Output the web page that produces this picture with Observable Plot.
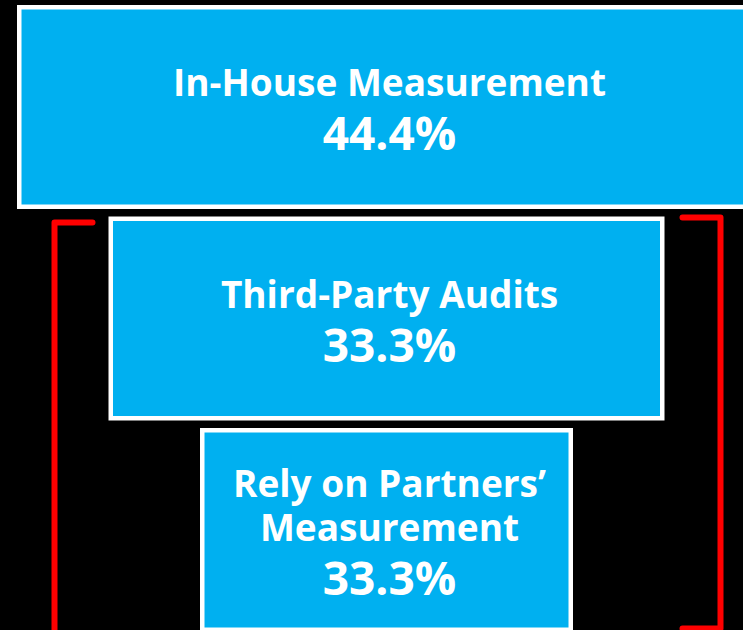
<!DOCTYPE html>
<html>
<head>
<meta charset="utf-8">
<script src="https://cdn.jsdelivr.net/npm/d3@7"></script>
<script src="https://cdn.jsdelivr.net/npm/@observablehq/plot@0.6"></script>
<style>
  html, body { margin: 0; padding: 0; background: #000; overflow: hidden; }
  #chart { width: 743px; height: 630px; overflow: hidden; }
</style>
</head>
<body>
<div id="chart"></div>
<script>
// ---- data ----
const categories = ["In-House Measurement", "Third-Party Audits", "Rely on Partners’ Measurement"];
const labelLines = [["In-House Measurement"], ["Third-Party Audits"], ["Rely on Partners’", "Measurement"]];
const values = [44.4, 33.3, 33.3];
const valueLabels = values.map(v => v.toFixed(1) + "%");

// ---- layout (funnel geometry in scale units = px) ----
const W = 743, H = 630;
const CX = 386.5, PITCH = 211.5, TOP0 = 5, BOXH = 204;
const LABEL_FS = 37, VALUE_FS = 46, LH = 43.5, GAP = 54.4, CAP = 26.5;
const n = categories.length;
const boxes = categories.map((c, i) => {
  const hw = 186.5 + 91.5 * (n - 1 - i);
  const top = TOP0 + PITCH * i;
  return {category: c, x1: CX - hw, x2: CX + hw, y1: top, y2: top + BOXH};
});

const labels = [], valueTexts = [];
boxes.forEach((b, i) => {
  const lines = labelLines[i];
  const blockH = CAP + LH * (lines.length - 1) + GAP;
  const cy = b.y1 + BOXH / 2 + 2.5;
  const firstBase = cy - blockH / 2 + CAP;
  const lastBase = firstBase + LH * (lines.length - 1);
  labels.push({x: CX, y: lastBase, text: lines.join("\n")});
  valueTexts.push({x: CX, y: lastBase + GAP, text: valueLabels[i]});
});

// bracket around the bottom two categories
const b1 = boxes[1], b2 = boxes[2];
const brackets = [
  {g: "L", x: b1.x1 - 16.5, y: b1.y1 + 5.5},
  {g: "L", x: b1.x1 - 54.5, y: b1.y1 + 5.5},
  {g: "L", x: b1.x1 - 54.5, y: H + 20},
  {g: "R", x: b1.x2 + 17.5, y: b1.y1 + 0.5},
  {g: "R", x: b1.x2 + 55.5, y: b1.y1 + 0.5},
  {g: "R", x: b1.x2 + 55.5, y: b2.y1 + 200},
  {g: "R", x: b1.x2 + 17.5, y: b2.y1 + 200}
];

const chart = Plot.plot({
  width: W,
  height: H,
  margin: 0,
  x: {domain: [0, W], range: [0, W], axis: null},
  y: {domain: [0, H], range: [0, H], axis: null},
  style: {background: "#000", overflow: "hidden"},
  marks: [
    Plot.rect(boxes, {x1: "x1", x2: "x2", y1: "y1", y2: "y2", fill: "#00B0F0", stroke: "#fff", strokeWidth: 4.5, inset: 2.25}),
    Plot.line(brackets, {x: "x", y: "y", z: "g", stroke: "#FF0000", strokeWidth: 6, strokeLinejoin: "round", curve: "linear"}),
    Plot.text(labels, {x: "x", y: "y", text: "text", dx: 2.5, lineAnchor: "bottom", lineHeight: LH / LABEL_FS, textAnchor: "middle", fill: "#fff", fontSize: LABEL_FS, fontWeight: "bold", fontFamily: "Open Sans"}),
    Plot.text(valueTexts, {x: "x", y: "y", text: "text", dx: 2.5, lineAnchor: "bottom", textAnchor: "middle", fill: "#fff", fontSize: VALUE_FS, fontWeight: "bold", fontFamily: "Open Sans"})
  ]
});
document.getElementById("chart").appendChild(chart);
</script>
</body>
</html>
